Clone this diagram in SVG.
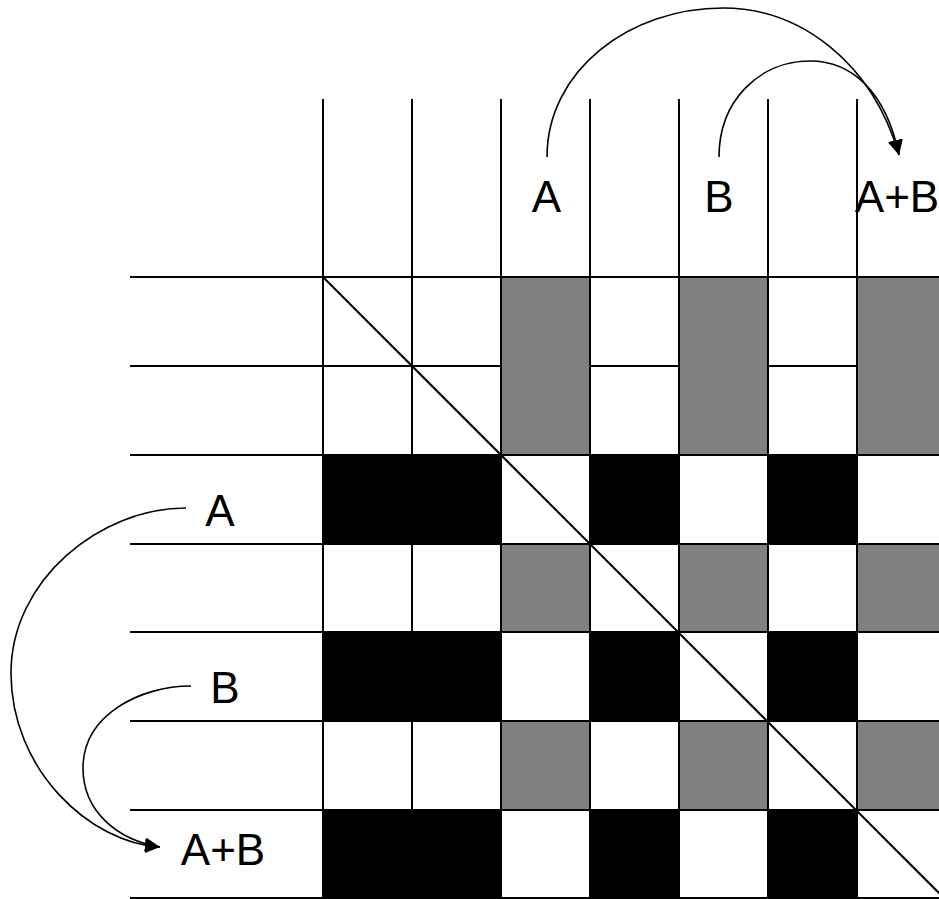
<svg xmlns="http://www.w3.org/2000/svg" width="939" height="899" viewBox="0 0 939 899">
<style>
.g{stroke:#000;stroke-width:2;fill:none}
.gray{fill:#808080;stroke:#000;stroke-width:2}
.blk{fill:#000;stroke:#000;stroke-width:2}
text{font-family:'Liberation Sans',Arial,sans-serif;font-size:44px;fill:#000;text-anchor:middle}
.c{stroke:#000;stroke-width:1.6;fill:none}
</style>
<defs>
<marker id="ah" markerUnits="userSpaceOnUse" markerWidth="16" markerHeight="14" refX="15" refY="7" orient="auto">
<path d="M0,0 L15,7 L0,14 z" fill="#000"/>
</marker>
</defs>
<rect x="0" y="0" width="939" height="899" fill="#fff"/>
<g id="grid-lines" class="g">
<line x1="130" y1="277" x2="939" y2="277"/>
<line x1="130" y1="366" x2="939" y2="366"/>
<line x1="130" y1="455" x2="939" y2="455"/>
<line x1="130" y1="544" x2="939" y2="544"/>
<line x1="130" y1="632" x2="939" y2="632"/>
<line x1="130" y1="721" x2="939" y2="721"/>
<line x1="130" y1="810" x2="939" y2="810"/>
<line x1="130" y1="898" x2="939" y2="898"/>
<line x1="323" y1="99" x2="323" y2="899"/>
<line x1="412" y1="99" x2="412" y2="899"/>
<line x1="501" y1="99" x2="501" y2="899"/>
<line x1="590" y1="99" x2="590" y2="899"/>
<line x1="679" y1="99" x2="679" y2="899"/>
<line x1="768" y1="99" x2="768" y2="899"/>
<line x1="857" y1="99" x2="857" y2="899"/>
</g>
<g id="gray-cells">
<rect class="gray" x="501" y="277" width="89" height="178"/>
<rect class="gray" x="679" y="277" width="89" height="178"/>
<rect class="gray" x="857" y="277" width="90" height="178"/>
<rect class="gray" x="501" y="544" width="89" height="88"/>
<rect class="gray" x="679" y="544" width="89" height="88"/>
<rect class="gray" x="857" y="544" width="90" height="88"/>
<rect class="gray" x="501" y="721" width="89" height="89"/>
<rect class="gray" x="679" y="721" width="89" height="89"/>
<rect class="gray" x="857" y="721" width="90" height="89"/>
</g>
<g id="black-cells">
<rect class="blk" x="323" y="455" width="178" height="89"/>
<rect class="blk" x="590" y="455" width="89" height="89"/>
<rect class="blk" x="768" y="455" width="89" height="89"/>
<rect class="blk" x="323" y="632" width="178" height="89"/>
<rect class="blk" x="590" y="632" width="89" height="89"/>
<rect class="blk" x="768" y="632" width="89" height="89"/>
<rect class="blk" x="323" y="810" width="178" height="90"/>
<rect class="blk" x="590" y="810" width="89" height="90"/>
<rect class="blk" x="768" y="810" width="89" height="90"/>
</g>
<line id="diagonal" x1="323" y1="277" x2="945" y2="899" stroke="#000" stroke-width="2"/>
<g id="top-A"><text x="546.5" y="212" font-family="Liberation Sans, Arial, sans-serif">A</text></g>
<g id="top-B"><text x="719" y="212" font-family="Liberation Sans, Arial, sans-serif">B</text></g>
<g id="top-AB"><text x="897" y="212" font-family="Liberation Sans, Arial, sans-serif">A+B</text></g>
<g id="left-A"><text x="220" y="526" font-family="Liberation Sans, Arial, sans-serif">A</text></g>
<g id="left-B"><text x="225" y="703" font-family="Liberation Sans, Arial, sans-serif">B</text></g>
<g id="left-AB"><text x="223" y="865" font-family="Liberation Sans, Arial, sans-serif">A+B</text></g>
<g id="connectors">
<path class="c" d="M547,157 C547,70 630,8 723,8 C800,8 872,62 899,155" marker-end="url(#ah)"/>
<path class="c" d="M719,157 C719,100 760,61 810,61 C852,61 886,92 899,155" marker-end="url(#ah)"/>
<path class="c" d="M186,508 C100,508 11,580 11,673 C11,770 90,843 160,847" marker-end="url(#ah)"/>
<path class="c" d="M191,686 C140,686 83,715 83,768 C83,812 118,840 160,847" marker-end="url(#ah)"/>
</g>
</svg>
